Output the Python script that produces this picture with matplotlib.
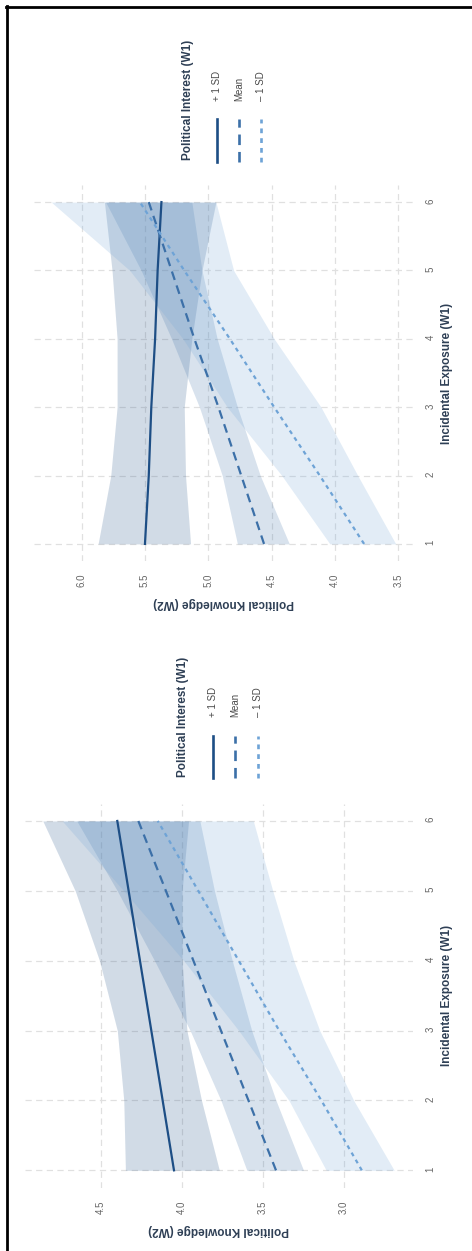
import matplotlib
matplotlib.use("Agg")
import matplotlib.pyplot as plt
from matplotlib.lines import Line2D
from matplotlib.ticker import FormatStrFormatter

plt.rcParams['font.family'] = ['Liberation Sans', 'DejaVu Sans']

exposure = [1, 2, 3, 4, 5, 6]

# right-hand model (drawn in the upper half of the rotated page)
r_hi = [5.50, 5.47, 5.45, 5.42, 5.40, 5.37]
r_hi_lo = [5.14, 5.18, 5.19, 5.13, 5.05, 4.94]
r_hi_up = [5.87, 5.77, 5.72, 5.72, 5.76, 5.82]
r_mean = [4.56, 4.74, 4.92, 5.11, 5.29, 5.47]
r_mean_lo = [4.36, 4.59, 4.77, 4.93, 5.05, 5.13]
r_mean_up = [4.77, 4.89, 5.07, 5.29, 5.53, 5.81]
r_low = [3.77, 4.12, 4.48, 4.83, 5.19, 5.54]
r_low_lo = [3.52, 3.82, 4.11, 4.48, 4.80, 4.94]
r_low_up = [4.04, 4.42, 4.85, 5.20, 5.62, 6.24]

# left-hand model (drawn in the lower half)
l_hi = [4.05, 4.12, 4.19, 4.26, 4.33, 4.40]
l_hi_lo = [3.77, 3.88, 3.97, 4.00, 4.00, 3.96]
l_hi_up = [4.35, 4.36, 4.40, 4.51, 4.66, 4.86]
l_mean = [3.42, 3.59, 3.76, 3.93, 4.10, 4.27]
l_mean_lo = [3.25, 3.42, 3.57, 3.69, 3.80, 3.89]
l_mean_up = [3.60, 3.76, 3.95, 4.17, 4.40, 4.65]
l_low = [2.89, 3.14, 3.40, 3.65, 3.90, 4.15]
l_low_lo = [2.69, 2.94, 3.15, 3.31, 3.44, 3.56]
l_low_up = [3.11, 3.34, 3.65, 3.99, 4.36, 4.74]

legend_labels = ['+ 1 SD', 'Mean', '\u2013 1 SD']
colors = ['#1d4e85', '#3c70a8', '#6ea3d6']
styles = ['-', (0, (4, 2.6)), (0, (1.8, 1.9))]

W, H = 472, 1251
fig = plt.figure(figsize=(W / 100, H / 100), dpi=100)


def fx(x):
    return x / W


def fy(y):
    return 1 - y / H


def panel(box, xlim, xticks, lines, bands, tick_pad, lab_y, ylab_x):
    x0, y0, x1, y1 = box
    ax = fig.add_axes([fx(x0), fy(y1), (x1 - x0) / W, (y1 - y0) / H])
    for (lo, up), c in zip(bands, colors):
        ax.fill_betweenx(exposure, lo, up, color=c, alpha=0.2, lw=0)
    for vals, c, ls in zip(lines, colors, styles):
        ax.plot(vals, exposure, color=c, ls=ls, lw=1.6)
    ax.set_xlim(xlim)
    ax.set_ylim(0.75, 6.25)
    ax.set_xticks(xticks)
    ax.set_yticks(exposure)
    ax.xaxis.set_major_formatter(FormatStrFormatter('%.1f'))
    ax.yaxis.tick_right()
    for s in ax.spines.values():
        s.set_visible(False)
    ax.grid(True, color='#e0e0e0', ls=(0, (5, 3.5)), lw=0.9)
    ax.set_axisbelow(True)
    ax.tick_params(axis='both', length=0, labelrotation=90, labelsize=7,
                   labelcolor='#666666', pad=tick_pad)
    ax.set_xlabel('Political Knowledge (W2)', rotation=180, fontsize=8.5,
                  fontweight='bold', color='#2e3f55', va='center')
    ax.xaxis.set_label_coords(0.5, -(lab_y - y1) / (y1 - y0))
    ax.yaxis.set_label_position('right')
    ax.set_ylabel('Incidental Exposure (W1)', rotation=90, fontsize=8.5,
                  fontweight='bold', color='#2e3f55', va='center', ha='center')
    ax.yaxis.set_label_coords((ylab_x - x0) / (x1 - x0), 0.5)
    return ax


def legend(title_x, title_y, key_xs, key_y0, key_y1, lab_y):
    fig.text(fx(title_x), fy(title_y), 'Political Interest (W1)', rotation=90,
             rotation_mode='anchor', ha='left', va='center', fontsize=8.5,
             fontweight='bold', color='#2e3f55')
    for kx, lab, c, ls in zip(key_xs, legend_labels, colors, styles):
        fig.add_artist(Line2D([fx(kx), fx(kx)], [fy(key_y1), fy(key_y0)],
                              color=c, ls=ls, lw=1.9))
        fig.text(fx(kx), fy(lab_y), lab, rotation=90, rotation_mode='anchor',
                 ha='left', va='center', fontsize=7, color='#4a4a4a')


panel((34, 185, 413, 561), (6.376, 3.384), [6.0, 5.5, 5.0, 4.5, 4.0, 3.5],
      [r_hi, r_mean, r_low],
      [(r_hi_lo, r_hi_up), (r_mean_lo, r_mean_up), (r_low_lo, r_low_up)],
      9, 603, 447)
legend(188, 160, [217, 239, 261], 119, 162, 101)

panel((25, 803.5, 413, 1187.8), (4.97, 2.574), [4.5, 4.0, 3.5, 3.0],
      [l_hi, l_mean, l_low],
      [(l_hi_lo, l_hi_up), (l_mean_lo, l_mean_up), (l_low_lo, l_low_up)],
      9, 1230, 447)
legend(183, 777, [213, 235, 258], 736, 778, 717)

# frame edges visible in the scan (left and top only)
fig.add_artist(Line2D([fx(7), fx(7)], [0, fy(6)], color='black', lw=2))
fig.add_artist(Line2D([fx(6), 1], [fy(7), fy(7)], color='black', lw=2))

fig.savefig('out.png', dpi=100)
